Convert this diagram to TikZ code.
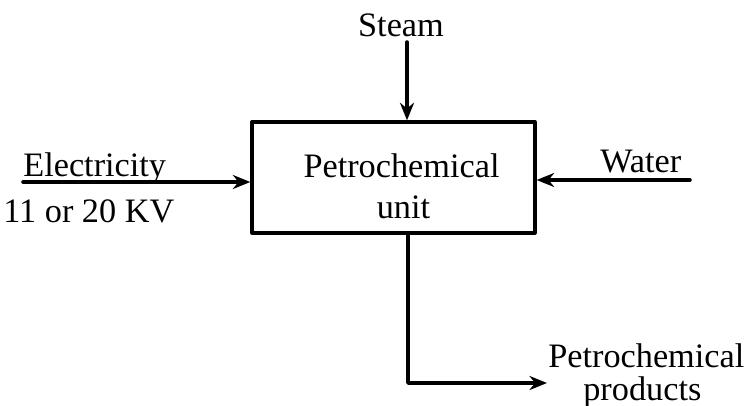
\documentclass[tikz,border=0pt]{standalone}
\usepackage{fontspec}
\setmainfont{Liberation Serif}
\usetikzlibrary{arrows.meta}

\begin{document}
\begin{tikzpicture}[x=0.02cm, y=-0.02cm, line join=round, line cap=round,
  flow/.style={line width=2pt, -{Stealth[length=10pt,width=8pt]}},
  lbl/.style={font=\fontsize{19.5}{23.5}\selectfont, inner sep=0pt, anchor=base west}]
  \useasboundingbox (0,0) rectangle (749,405);

  % ========================================================
  % 0. PROCESS BOX
  % ========================================================
  \node[draw, line width=1.9pt, minimum width=5.66cm, minimum height=2.22cm, inner sep=0pt] (unit) at (393.5,177.5) {};
  \node[lbl, anchor=base] (unitname) at (401.5,177) {Petrochemical};
  \node[lbl, anchor=base] (unitname2) at (403.5,218) {unit};

  % ========================================================
  % 1. INPUT AND OUTPUT STREAMS
  % ========================================================
  \coordinate (steamtop) at (407,42);
  \coordinate (elecstart) at (23,182);
  \coordinate (waterstart) at (690,180);
  \coordinate (prodbend) at (408,383);
  \coordinate (prodend) at (547,383);

  \draw[flow] (steamtop) -- (steamtop |- unit.north);
  \draw[flow] (elecstart) -- (elecstart -| unit.west);
  \draw[flow] (waterstart) -- (waterstart -| unit.east);
  \draw[flow] (prodbend |- unit.south) -- (prodbend) -- (prodend);

  % ========================================================
  % 2. STREAM LABELS
  % ========================================================
  \node[lbl, anchor=base] (steam) at (401,37) {Steam};
  \node[lbl] (elec) at (23,176) {Electricity};
  \node[lbl] (volt) at (3,222) {11 or 20 KV};
  \node[lbl] (water) at (600,173) {Water};
  \node[lbl] (prod) at (548,367) {Petrochemical};
  \node[lbl] (prod2) at (583,400) {products};

\end{tikzpicture}
\end{document}
